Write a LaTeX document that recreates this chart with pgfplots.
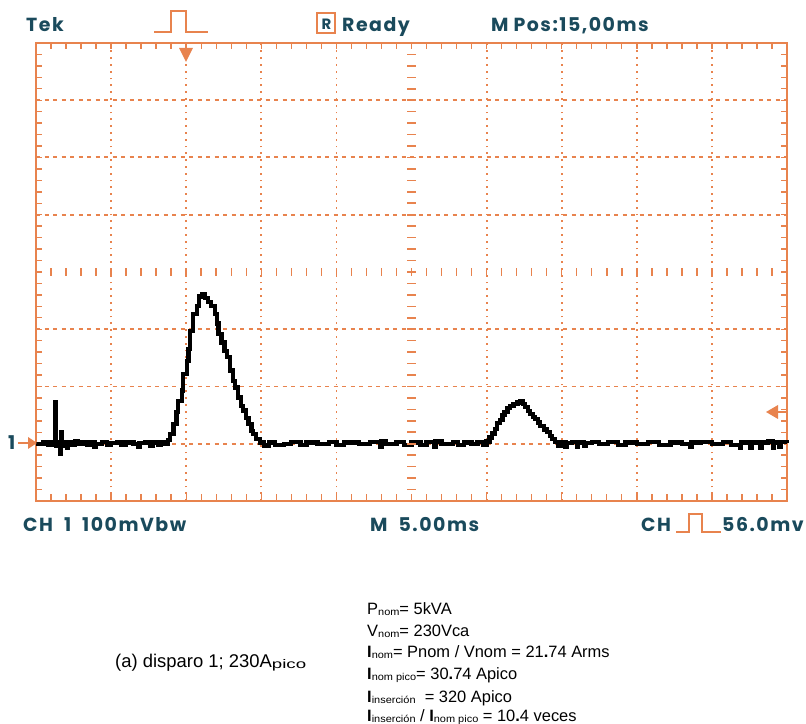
\documentclass[border=0pt]{standalone}
\usepackage{pgfplots}
\pgfplotsset{compat=1.18}
\usepackage{fontspec}
\setmainfont{Liberation Sans}
\newfontfamily\tekfont[LetterSpace=8, WordSpace=2.0]{Poppins}
\definecolor{tekor}{HTML}{E8834E}
\definecolor{tekbl}{HTML}{1A4A5C}
\newcommand\sub[1]{\raisebox{-1bp}{\scalebox{1.1}[1]{\fontsize{10}{10}\selectfont #1}}}
\newcommand\subp[1]{\raisebox{-1bp}{\scalebox{1.5}[1]{\fontsize{12.5}{12}\selectfont #1}}}
\newcommand\tk[1]{{\tekfont\bfseries\fontsize{19}{20}\selectfont\color{tekbl}#1}}
\begin{document}
\begin{tikzpicture}
\useasboundingbox (0,0) rectangle (806bp,724bp);
\begin{axis}[
  at={(36bp,223bp)}, anchor=south west,
  scale only axis, width=751bp, height=458bp,
  xmin=0, xmax=10, ymin=-1, ymax=7,
  axis line style={tekor, line width=1.8bp},
  xtick={0,...,10}, ytick={-1,...,7},
  minor x tick num=4, minor y tick num=4,
  xticklabels={}, yticklabels={},
  tick align=inside, major tick length=6.5bp, minor tick length=6.5bp,
  every tick/.style={tekor, line width=1.4bp},
  clip=false,
]
% grid
\pgfplotsinvokeforeach{1,2,3,4,6,7,8,9}{
  \draw[tekor, line width=1.8bp, dash pattern=on 1.8bp off 5bp] (axis cs:#1,-1) -- (axis cs:#1,7);
}
\pgfplotsinvokeforeach{0,1,2,4,5.008,6}{
  \draw[tekor, line width=1.8bp, dash pattern=on 4bp off 4.5bp] (axis cs:0,#1) -- (axis cs:10,#1);
}
\addplot[black, line width=4.3bp, const plot, mark=none] coordinates {
(0.00,0.00)(0.10,0.02)(0.16,-0.02)(0.20,0.02)(0.24,-0.02)(0.25,0.72)(0.262,-0.03)
(0.30,0.03)(0.32,-0.17)(0.33,0.21)(0.345,-0.04)(0.38,0.03)(0.41,-0.07)(0.43,0.02)
(0.48,-0.02)(0.52,0.04)(0.56,0.00)(0.62,0.03)(0.68,-0.02)(0.72,0.03)(0.78,-0.06)
(0.80,0.00)(0.88,0.03)(0.95,-0.02)(1.00,0.01)(1.08,0.03)(1.14,-0.02)(1.20,0.02)
(1.30,0.00)(1.36,-0.05)(1.38,0.01)(1.46,0.03)(1.52,-0.03)(1.56,0.02)(1.62,-0.02)
(1.66,0.02)(1.72,0.00)(1.76,0.06)(1.78,0.17)(1.83,0.34)(1.87,0.55)(1.89,0.75)
(1.94,0.93)(1.96,1.22)(2.01,1.45)(2.03,1.65)(2.05,1.97)(2.09,2.27)(2.14,2.41)
(2.17,2.57)(2.21,2.61)(2.25,2.55)(2.29,2.48)(2.33,2.41)(2.38,2.27)(2.41,2.10)
(2.43,1.92)(2.47,1.77)(2.51,1.62)(2.54,1.51)(2.58,1.28)(2.62,1.10)(2.65,0.98)
(2.69,0.81)(2.73,0.66)(2.76,0.58)(2.80,0.45)(2.83,0.34)(2.87,0.22)(2.89,0.17)
(2.93,0.08)(2.98,0.02)(3.04,-0.03)(3.10,0.02)(3.18,-0.02)(3.30,0.00)(3.40,0.03)
(3.52,-0.02)(3.60,0.02)(3.75,0.00)(3.90,0.03)(4.00,-0.02)(4.10,0.02)(4.30,0.00)
(4.45,0.03)(4.58,-0.05)(4.60,0.04)(4.66,0.00)(4.80,0.03)(4.90,-0.02)(5.00,0.02)
(5.12,-0.02)(5.20,0.03)(5.30,-0.05)(5.32,0.04)(5.40,0.00)(5.55,0.03)(5.62,-0.02)
(5.70,0.02)(5.80,0.00)(5.88,0.03)(5.95,-0.02)(6.00,0.04)(6.04,0.11)(6.07,0.18)
(6.11,0.26)(6.14,0.36)(6.18,0.42)(6.21,0.50)(6.24,0.56)(6.28,0.63)(6.31,0.66)
(6.36,0.69)(6.41,0.72)(6.44,0.75)(6.48,0.69)(6.51,0.64)(6.55,0.57)(6.58,0.52)
(6.62,0.47)(6.64,0.43)(6.68,0.37)(6.71,0.31)(6.76,0.25)(6.80,0.20)(6.84,0.13)
(6.87,0.08)(6.91,0.03)(6.95,-0.03)(7.00,0.02)(7.05,-0.05)(7.07,0.01)(7.14,0.03)
(7.20,-0.05)(7.22,0.02)(7.30,-0.04)(7.32,0.01)(7.40,0.03)(7.50,0.00)(7.62,0.03)
(7.75,-0.02)(7.85,0.02)(8.00,0.00)(8.15,0.03)(8.30,-0.02)(8.45,0.02)(8.60,0.00)
(8.71,-0.06)(8.73,0.02)(8.85,0.03)(9.00,0.00)(9.15,0.03)(9.25,-0.02)(9.37,-0.07)
(9.39,0.02)(9.51,-0.07)(9.53,0.02)(9.64,-0.07)(9.66,0.02)(9.75,0.04)(9.81,-0.07)
(9.83,0.02)(9.90,-0.06)(9.92,0.03)(10.00,0.02)
};
\end{axis}
% centre graticule ticks (x = 5 and y = 3 division lines)
\foreach \i in {1,...,39} {
  \draw[tekor, line width=1.6bp] (407bp, {(223+\i*11.45)*1bp}) -- ++(9bp,0);
}
\foreach \i in {1,...,49} {
  \draw[tekor, line width=1.5bp] ({(36+\i*15.02)*1bp}, 448.2bp) -- ++(0,7.6bp);
}
% header
\node[anchor=base west, inner sep=0] at (26bp,692bp) {\tk{Tek}};
\draw[tekor, line width=1.3bp] (154bp,692bp) -- (171bp,692bp) -- (171bp,713bp) -- (186bp,713bp) -- (186bp,692bp) -- (208bp,692bp);
\draw[tekor, line width=1.3bp] (317bp,691bp) rectangle (335bp,711bp);
\node[anchor=base, inner sep=0] at (326.5bp,694.5bp) {{\tekfont\bfseries\fontsize{15}{16}\selectfont\color{tekbl}R}};
\node[anchor=base west, inner sep=0] at (342bp,692bp) {\tk{Ready}};
\node[anchor=base west, inner sep=0] at (491bp,692bp) {\tk{M\hspace{5bp}Pos:15,00ms}};
% trigger position arrow
\draw[tekor, line width=1.6bp] (186bp,681bp) -- (186bp,675bp);
\fill[tekor] (179bp,676bp) -- (193bp,676bp) -- (186bp,662bp) -- cycle;
% channel marker
\node[anchor=base west, inner sep=0] at (8bp,274bp) {\tk{1}};
\draw[tekor, line width=1.8bp] (18bp,281bp) -- (29bp,281bp);
\fill[tekor] (28bp,287bp) -- (28bp,275bp) -- (37bp,281bp) -- cycle;
% trigger level arrow
\fill[tekor] (766bp,312bp) -- (778bp,319bp) -- (778bp,305bp) -- cycle;
\draw[tekor, line width=1.8bp] (777bp,312bp) -- (786bp,312bp);
% footer
\node[anchor=base west, inner sep=0] at (23bp,192bp) {\tk{CH 1 100mVbw}};
\node[anchor=base west, inner sep=0] at (370bp,192bp) {\tk{M 5.00ms}};
\node[anchor=base west, inner sep=0] at (641bp,192bp) {\tk{CH}};
\draw[tekor, line width=1.3bp] (676bp,192bp) -- (689bp,192bp) -- (689bp,210bp) -- (702bp,210bp) -- (702bp,192bp) -- (721bp,192bp);
\node[anchor=base west, inner sep=0] at (722bp,192bp) {\tk{56.0mv}};
% caption block
\node[anchor=base west, inner sep=0] at (115bp,56bp) {\fontsize{18.5}{20}\selectfont (a) disparo 1; 230A\subp{pico}};
\begin{scope}[every node/.style={anchor=base west, inner sep=0, font=\fontsize{16.5}{18}\selectfont}]
\node at (367bp,109bp) {P\sub{nom}= 5kVA};
\node at (367bp,87bp) {V\sub{nom}= 230Vca};
\node at (367bp,66bp) {\textbf{I}\sub{nom}= Pnom / Vnom = 21\textbf{.}74 Arms};
\node at (367bp,44bp) {\textbf{I}\sub{nom pico}= 30\textbf{.}74 Apico};
\node at (367bp,22bp) {\textbf{I}\sub{inserción}\ \ = 320 Apico};
\node at (367bp,2.5bp) {\textbf{I}\sub{inserción} / \textbf{I}\sub{nom pico} = 10\textbf{.}4 veces};
\end{scope}
\end{tikzpicture}
\end{document}
